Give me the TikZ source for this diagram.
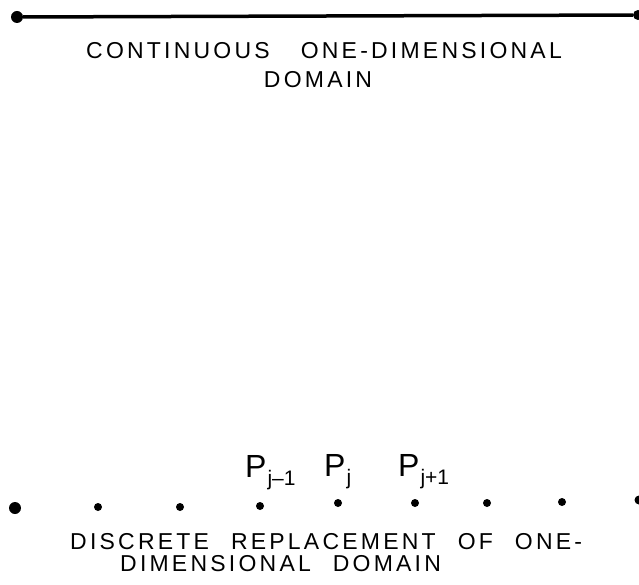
\documentclass[tikz,border=0pt]{standalone}
\usepackage{fontspec}
\newfontfamily\domainfont[LetterSpace=14]{Liberation Sans}
\newfontfamily\pointfont{Liberation Sans}
\usetikzlibrary{positioning}
\newcommand{\gap}[1][22pt]{\hspace{#1}}
\newcommand{\plab}[1]{P\kern1pt\raisebox{-8pt}{\fontsize{21}{21}\selectfont #1}}
\tikzset{
  dot/.style={circle, fill, inner sep=0pt, minimum size=#1},
  dot/.default=8pt,
  caption/.style={font=\domainfont\fontsize{23}{27}\selectfont, inner sep=0pt},
  plabel/.style={font=\pointfont\fontsize{32}{32}\selectfont, inner sep=0pt, anchor=base west}
}
\begin{document}
\begin{tikzpicture}[x=1pt,y=-1pt]
  \useasboundingbox (0,0) rectangle (639,585);
  % continuous domain
  \node[dot=12pt] (L) at (17,17) {};
  \node[dot=10pt] (R) at (638,15) {};
  \draw[line width=3.5pt] (L) -- (R);
  \node[caption, anchor=west] (cont1) at (86,51) {CONTINUOUS\gap[31pt]ONE-DIMENSIONAL};
  \node[caption] (cont2) at (318,80) {DOMAIN};
  % discrete domain
  \node[dot=12pt] (p1) at (15,508) {};
  \foreach \n/\x/\y in {2/98/507, 3/180/507, 4/260/506, 5/338/503, 6/415/503, 7/487/503, 8/562/502}
    \node[dot] (p\n) at (\x,\y) {};
  \node[dot=9pt] (p9) at (639,500) {};
  \node[plabel] (Pm) at ([xshift=-15pt, yshift=29pt]p4.center) {\plab{j–1}};
  \node[plabel] (P0) at ([xshift=-14pt, yshift=27pt]p5.center) {\plab{j}};
  \node[plabel] (Pp) at ([xshift=-17pt, yshift=27pt]p6.center) {\plab{j+1}};
  \node[caption, anchor=west] (disc1) at (70,542) {DISCRETE\gap REPLACEMENT\gap OF\gap ONE-};
  \node[caption, anchor=west] (disc2) at (120,564) {DIMENSIONAL\gap DOMAIN};
\end{tikzpicture}
\end{document}
